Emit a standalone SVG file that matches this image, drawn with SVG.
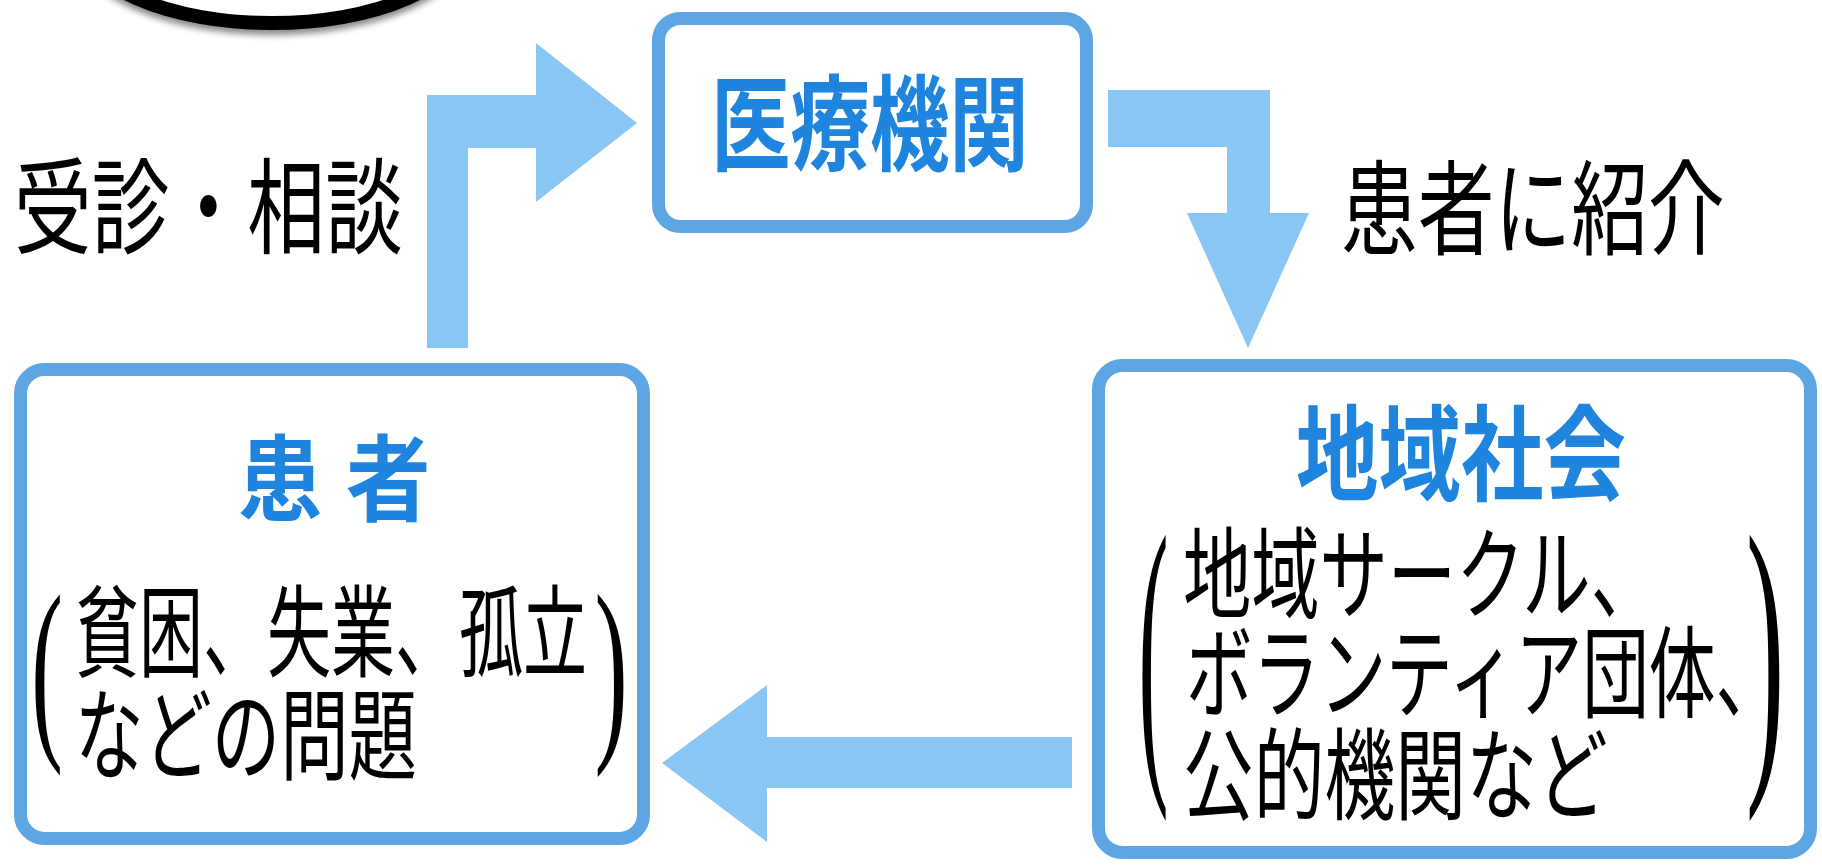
<svg xmlns="http://www.w3.org/2000/svg" width="1822" height="865" viewBox="0 0 1822 865">
<style>
.box{fill:#ffffff;stroke:#5ea5e3;stroke-width:13}
.arrow{fill:#8ac6f4}
.title{font-family:"Liberation Sans","Noto Sans CJK JP",sans-serif;font-weight:bold;fill:#1e84de}
.body{font-family:"Liberation Sans","Noto Sans CJK JP",sans-serif;fill:#000000}
.paren{font-family:"Liberation Serif",serif;fill:#000000;font-size:100px}
</style>
<defs>
<filter id="sh" x="-20%" y="-50%" width="140%" height="200%">
<feDropShadow dx="0" dy="5" stdDeviation="3" flood-color="#000" flood-opacity="0.45"/>
</filter>
</defs>
<rect x="0" y="0" width="1822" height="865" fill="#ffffff"/>
<ellipse cx="272" cy="-62" rx="192" ry="85" fill="#ffffff" stroke="#000000" stroke-width="14" filter="url(#sh)"/>
<g id="connectors">
<polygon class="arrow" points="427,348 427,95 536,95 536,43 637,123 536,202 536,148 468,148 468,348"/>
<polygon class="arrow" points="1108,90 1270,90 1270,213 1309,213 1248,348 1187,213 1227,213 1227,147 1108,147"/>
<polygon class="arrow" points="1072,737 767,737 767,685 662,763 767,842 767,788 1072,788"/>
<text class="body" font-size="104" transform="translate(14,246) scale(0.748,1)">受診・相談</text>
<text class="body" font-size="104" transform="translate(1341,247) scale(0.738,1)">患者に紹介</text>
</g>
<g id="node-iryou">
<rect class="box" x="658.5" y="18.5" width="428" height="208" rx="22"/>
<text class="title" font-size="104" transform="translate(711,163) scale(0.764,1)">医療機関</text>
</g>
<g id="node-kanja">
<rect class="box" x="20.5" y="369.5" width="623" height="469" rx="24"/>
<text class="title" font-size="94" transform="translate(238,514) scale(0.9,1)">患 者</text>
<text class="paren" transform="translate(31.2,733) scale(0.95,2)">(</text>
<text class="body" font-size="100" transform="translate(75,669) scale(0.64,1)">貧困、失業、孤立</text>
<text class="body" font-size="100" transform="translate(75,772) scale(0.684,1)">などの問題</text>
<text class="paren" transform="translate(594.6,734.4) scale(1,2.02)">)</text>
</g>
<g id="node-chiiki">
<rect class="box" x="1098.5" y="365.5" width="712" height="487" rx="24"/>
<text class="title" font-size="104" transform="translate(1296,493) scale(0.793,1)">地域社会</text>
<text class="paren" transform="translate(1138.5,753.8) scale(0.9,3.156)">(</text>
<text class="body" font-size="100" transform="translate(1183,611) scale(0.683,1)">地域サークル、</text>
<text class="body" font-size="100" transform="translate(1186,710) scale(0.667,1)">ボランティア団体、</text>
<text class="body" font-size="100" transform="translate(1183,812) scale(0.708,1)">公的機関など</text>
<text class="paren" transform="translate(1746,753.8) scale(1.15,3.156)">)</text>
</g>
</svg>
